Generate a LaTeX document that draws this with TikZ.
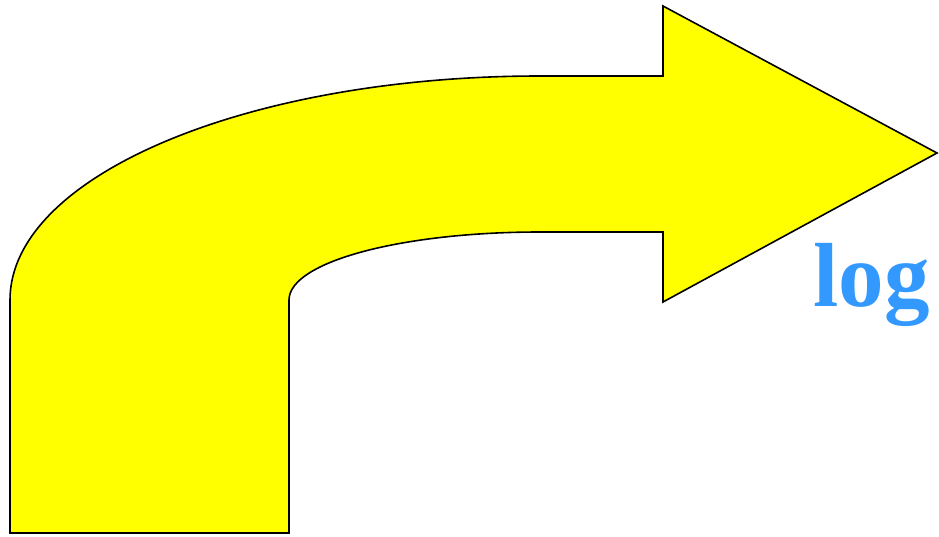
\documentclass[tikz,border=0pt]{standalone}
\usepackage{fontspec}
\setmainfont{Liberation Serif}
\usepackage{tikz}
\definecolor{arrowyellow}{RGB}{255,255,0}
\definecolor{logblue}{RGB}{51,153,255}

\begin{document}
\begin{tikzpicture}[
    x=1pt, y=-1pt,
    bent/.style={draw=black, fill=arrowyellow, line width=1.6pt, line join=miter},
    lbl/.style={inner sep=0pt, anchor=base west, text=logblue, font=\fontsize{91}{91}\selectfont\bfseries}
]
\useasboundingbox (0,0) rectangle (939,536);
% bent arrow
\draw[bent] (10,533) -- (10,300)
    .. controls (10,176) and (247,76) .. (540,76)
    -- (663,76) -- (663,6) -- (937,153) -- (663,302) -- (663,232)
    -- (540,232)
    .. controls (401,232) and (289,262) .. (289,300)
    -- (289,533) -- cycle;
\node[lbl] (log) at (813,306) {log};
\end{tikzpicture}
\end{document}
